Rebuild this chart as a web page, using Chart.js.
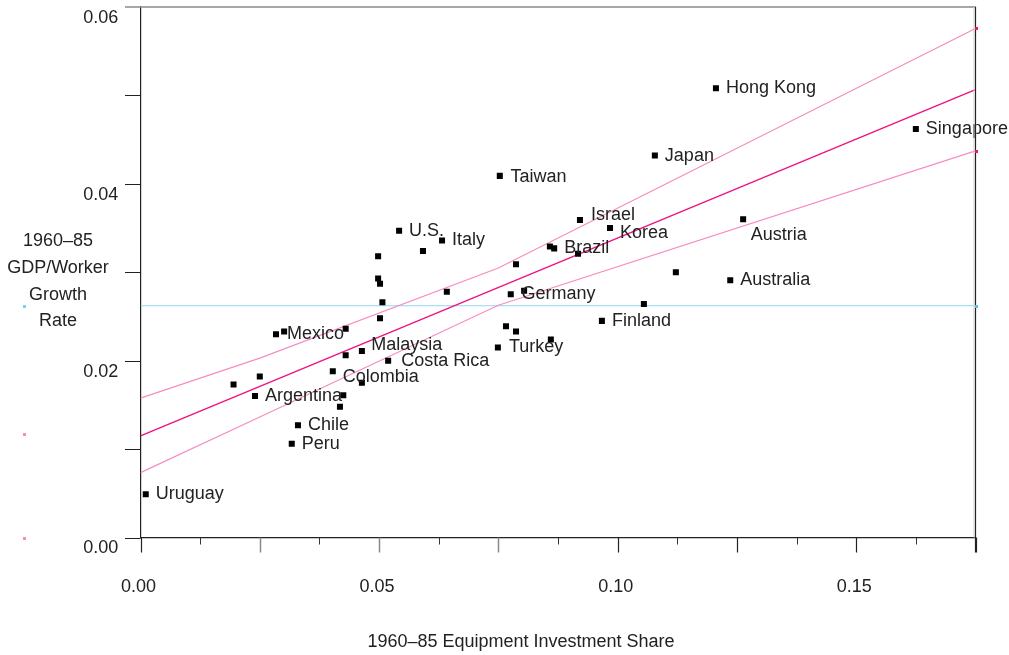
<!DOCTYPE html>
<html><head><meta charset="utf-8">
<script src="https://cdn.jsdelivr.net/npm/chart.js@4/dist/chart.umd.min.js"></script>
<style>html,body{margin:0;padding:0;background:#fff;}#wrap{width:1009px;height:655px;position:relative;}</style>
</head><body><div id="wrap"><canvas id="c" width="1009" height="655"></canvas></div>
<script>
// ---- data ----
const countries = ['Uruguay','','Argentina','','Mexico','','Peru','Chile','Colombia','','','','','Malaysia','','','','','','','Costa Rica','U.S.','','Italy','','Turkey','Taiwan','','Germany','','','','','Brazil','','','Israel','Finland','Korea','','Japan','','Hong Kong','Australia','Austria','Singapore'];
const equipShare = [0.0011,0.0195,0.0240,0.0250,0.0284,0.0301,0.0317,0.0330,0.0403,0.0418,0.0425,0.0430,0.0430,0.0464,0.0464,0.0498,0.0498,0.0502,0.0502,0.0507,0.0519,0.0542,0.0592,0.0632,0.0642,0.0749,0.0753,0.0766,0.0776,0.0787,0.0787,0.0804,0.0858,0.0867,0.0860,0.0917,0.0921,0.0967,0.0984,0.1055,0.1078,0.1122,0.1206,0.1236,0.1263,0.1625];
const gdpGrowth = [0.0049,0.0173,0.0160,0.0182,0.0230,0.0233,0.0106,0.0127,0.0188,0.0148,0.0161,0.0236,0.0206,0.0211,0.0175,0.0318,0.0293,0.0287,0.0248,0.0266,0.0200,0.0347,0.0324,0.0336,0.0278,0.0215,0.0409,0.0239,0.0275,0.0309,0.0233,0.0279,0.0329,0.0327,0.0224,0.0321,0.0359,0.0245,0.0350,0.0264,0.0432,0.0300,0.0508,0.0291,0.0360,0.0462];
const fitX = [0, 0.175];
const fitY = [0.01149, 0.05066];
const bandX = [0, 0.025, 0.075, 0.175];
const upperBand = [0.01576, 0.02029, 0.03048, 0.05757];
const lowerBand = [0.00734, 0.01362, 0.02627, 0.04372];
const meanX = [0, 0.175];
const meanGrowth = [0.02621, 0.02621];
const xTickLabels = ['0.00','0.05','0.10','0.15'];
const yTickLabels = ['0.00','0.02','0.04','0.06'];
const xMajorMarks = [0,0.025,0.05,0.075,0.1,0.125,0.15,0.175];
const xMinorMarks = [0.0125,0.0375,0.0625,0.0875,0.1125,0.1375,0.1625];
const yMarks = [0,0.01,0.02,0.03,0.04,0.05];
const xTitle = '1960\u201385 Equipment Investment Share';
const yTitle = ['1960\u201385','GDP/Worker','Growth','Rate'];

// ---- label offsets (styling) ----
const labelOffsets = {
  'Austria':[7.7,15.5],'Malaysia':[9.3,-6],'Israel':[11,-5.2],'Korea':[10,4.8],
  'Colombia':[10,5.3],'Costa Rica':[13,0.5],'Taiwan':[10.7,1.5],'Mexico':[11,0.2],
  'Germany':[10.7,0.1],'Turkey':[11,-0.8]
};
const FONT = '18px "Liberation Sans", Arial, sans-serif';
const TXT = '#222';

const pts = equipShare.map((x,i)=>({x, y: gdpGrowth[i]}));
const xy = (xs, ys) => xs.map((x,i)=>({x, y: ys[i]}));

const decor = {
  id:'decor',
  afterDraw(chart){
    const {ctx, chartArea:a, scales:{x, y}} = chart;
    ctx.save();
    const ln = (x1,y1,x2,y2,c,w)=>{ctx.beginPath();ctx.strokeStyle=c;ctx.lineWidth=w;ctx.moveTo(x1,y1);ctx.lineTo(x2,y2);ctx.stroke();};
    const yTop = y.getPixelForValue(0.06);
    ln(125, yTop, a.right+0.5, yTop, '#8a8a8a', 1.5);
    ln(a.right, yTop, a.right, a.bottom+15, '#222', 1.2);
    ln(a.right-1.5, yTop, a.right-1.5, a.bottom, '#cfcfcf', 1);
    yMarks.forEach(v=>{const p=Math.round(y.getPixelForValue(v))+0.5; ln(125,p,a.left,p,'#222',1);});
    xMajorMarks.forEach(v=>{const p=Math.round(x.getPixelForValue(v))+0.5; const g=(v>0.01&&v<0.08); ln(p,a.bottom,p,a.bottom+15, g?'#8a8a8a':'#222', g?1.5:1.2);});
    xMinorMarks.forEach(v=>{const p=Math.round(x.getPixelForValue(v))+0.5; ln(p,a.bottom,p,a.bottom+7,'#333',1);});
    // small side markers
    const sq=(px,py,c)=>{ctx.fillStyle=c;ctx.fillRect(Math.round(px)-1,Math.round(py)-1,3,3);};
    sq(24, y.getPixelForValue(meanGrowth[0]), '#7fcff0');
    sq(24, y.getPixelForValue(0.01167), '#f08cc4');
    sq(24, y.getPixelForValue(0), '#f08cc4');
    sq(a.right, y.getPixelForValue(upperBand[3]), '#e8157e');
    sq(a.right, y.getPixelForValue(lowerBand[3]), '#e8157e');
    sq(a.right, y.getPixelForValue(meanGrowth[1]), '#5bbfe8');
    // titles
    ctx.fillStyle=TXT; ctx.font=FONT; ctx.textAlign='center'; ctx.textBaseline='middle';
    ctx.fillText(xTitle, 521, 642.5);
    yTitle.forEach((t,i)=>ctx.fillText(t, 58, 241 + i*26.8));
    ctx.restore();
  },
  afterDatasetsDraw(chart){
    const {ctx, scales:{x, y}} = chart;
    ctx.save();
    ctx.fillStyle=TXT; ctx.font=FONT; ctx.textAlign='left'; ctx.textBaseline='middle';
    countries.forEach((n,i)=>{
      if(!n) return;
      const o = labelOffsets[n] || [10,0];
      ctx.fillText(n, x.getPixelForValue(equipShare[i])+o[0], y.getPixelForValue(gdpGrowth[i])+o[1]);
    });
    ctx.restore();
  }
};

const zeroPad = s => { s.paddingTop=0; s.paddingBottom=0; s.paddingLeft=0; s.paddingRight=0; };

new Chart(document.getElementById('c'), {
  type:'scatter',
  data:{datasets:[
    {data:pts, pointStyle:'rect', pointRadius:4.25, pointHoverRadius:4.25, backgroundColor:'#000', borderWidth:0},
    {type:'line', data:xy(fitX,fitY), borderColor:'#f0127f', borderWidth:1.4, pointRadius:0, fill:false, tension:0},
    {type:'line', data:xy(bandX,upperBand), borderColor:'#f78cc2', borderWidth:1.2, pointRadius:0, fill:false, tension:0},
    {type:'line', data:xy(bandX,lowerBand), borderColor:'#f78cc2', borderWidth:1.2, pointRadius:0, fill:false, tension:0},
    {type:'line', data:xy(meanX,meanGrowth), borderColor:'#93d6f2', borderWidth:1.2, pointRadius:0, fill:false, tension:0}
  ]},
  options:{
    responsive:false, animation:false, devicePixelRatio:1,
    layout:{autoPadding:false, padding:{top:7, right:33.5, left:0, bottom:0}},
    plugins:{legend:{display:false}, tooltip:{enabled:false}},
    events:[],
    scales:{
      x:{type:'linear', min:0, max:0.175,
        afterFit:s=>{s.height=117.5; zeroPad(s);},
        grid:{display:false, drawTicks:false},
        border:{display:true, color:'#222', width:1.2},
        ticks:{stepSize:0.05, autoSkip:false, maxRotation:0, padding:38.5, labelOffset:-2, color:TXT,
          font:{family:'"Liberation Sans", Arial, sans-serif', size:18},
          callback:(v)=>{const k=Math.round(v/0.05); return Math.abs(v-k*0.05)<1e-6 ? (xTickLabels[k]||'') : '';}}
      },
      y:{type:'linear', min:0, max:0.06,
        afterFit:s=>{s.width=140.5; zeroPad(s);},
        grid:{display:false, drawTicks:false},
        border:{display:true, color:'#222', width:1.2},
        ticks:{stepSize:0.02, padding:22.2, labelOffset:11, color:TXT,
          font:{family:'"Liberation Sans", Arial, sans-serif', size:18},
          callback:(v)=>{const k=Math.round(v/0.02); return Math.abs(v-k*0.02)<1e-6 ? (yTickLabels[k]||'') : '';}}
      }
    }
  },
  plugins:[decor]
});
</script></body></html>
